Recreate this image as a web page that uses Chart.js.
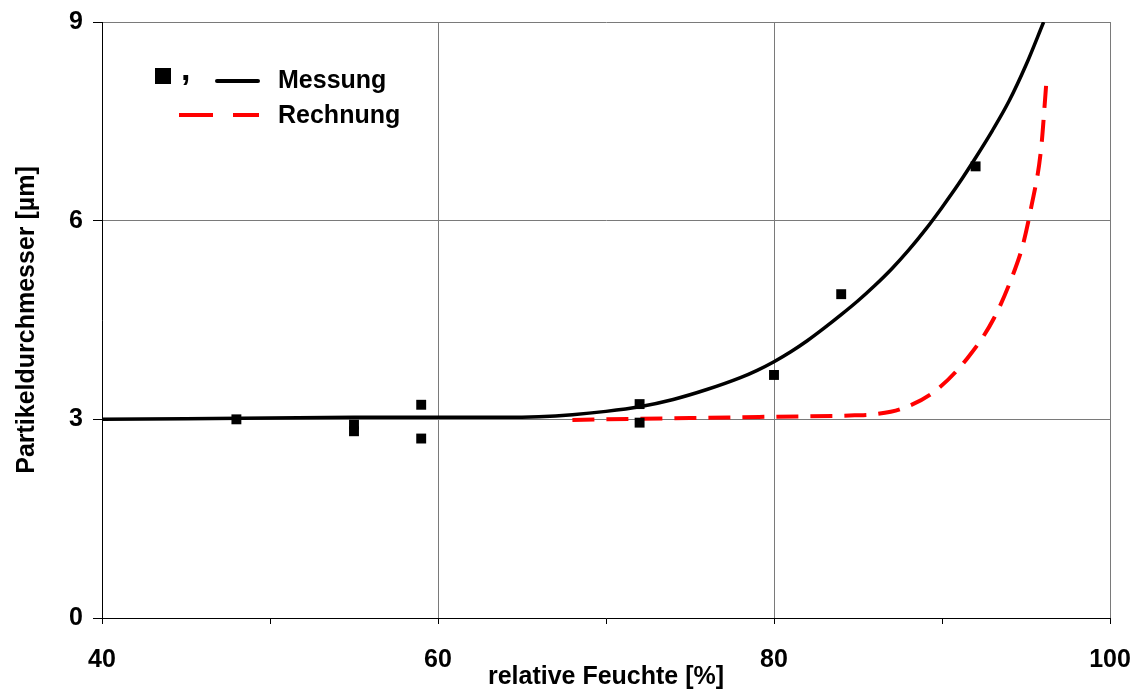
<!DOCTYPE html>
<html>
<head>
<meta charset="utf-8">
<script src="https://cdn.jsdelivr.net/npm/chart.js@4"></script>
<style>
  html, body { margin: 0; padding: 0; background: #fff; }
  #wrap { width: 1144px; height: 690px; }
</style>
</head>
<body>
<div id="wrap"><canvas id="grafico" width="1144" height="690"></canvas></div>
<script>
// Messwerte (relative Feuchte in %, Durchmesser in µm)
const messX = [48, 55, 55, 59, 59, 72, 72, 80, 84, 92];
const messY = [3.00, 2.92, 2.82, 3.22, 2.71, 3.23, 2.95, 3.67, 4.89, 6.82];

// Ausgleichskurve durch die Messwerte
const fitX = [40, 45, 50, 55, 60, 64, 66, 68, 70, 72, 74, 76, 78, 79, 80, 81, 82, 83, 84, 85, 86, 87, 88, 89, 90, 91, 92, 93, 94, 95, 96.05];
const fitY = [3.00, 3.01, 3.02, 3.03, 3.03, 3.03, 3.04, 3.07, 3.12, 3.19, 3.30, 3.45, 3.63, 3.74, 3.87, 4.02, 4.19, 4.38, 4.58, 4.79, 5.02, 5.27, 5.55, 5.86, 6.20, 6.56, 6.95, 7.36, 7.81, 8.35, 9.00];

// Rechnung
const rechX = [68, 70, 75, 80, 84.8, 86.1, 87.6, 89.6, 91.5, 93.1, 94.35, 94.8, 95.3, 95.9, 96.2];
const rechY = [2.99, 3.00, 3.02, 3.04, 3.06, 3.08, 3.16, 3.43, 3.92, 4.53, 5.27, 5.62, 6.19, 7.09, 8.05];

const xTicks = [40, 60, 80, 100];
const yTicks = [0, 3, 6, 9];

const schrift = 'Liberation Sans, Arial, Helvetica, sans-serif';

function punkte(xs, ys) {
  return xs.map((x, i) => ({ x: x, y: ys[i] }));
}

const legende = {
  id: 'legende',
  afterDraw(chart) {
    const ctx = chart.ctx;
    ctx.save();
    ctx.fillStyle = '#000';
    ctx.fillRect(155, 68, 16, 16);
    ctx.font = 'bold 34px ' + schrift;
    ctx.textBaseline = 'alphabetic';
    ctx.fillText(',', 181, 80);

    ctx.lineCap = 'round';
    ctx.strokeStyle = '#000';
    ctx.lineWidth = 4;
    ctx.beginPath();
    ctx.moveTo(217, 81);
    ctx.lineTo(258, 81);
    ctx.stroke();

    ctx.lineCap = 'butt';
    ctx.strokeStyle = '#ff0000';
    ctx.beginPath();
    ctx.moveTo(179, 115);
    ctx.lineTo(213, 115);
    ctx.moveTo(233, 115);
    ctx.lineTo(259, 115);
    ctx.stroke();

    ctx.fillStyle = '#000';
    ctx.font = 'bold 25px ' + schrift;
    ctx.fillText('Messung', 278, 88);
    ctx.fillText('Rechnung', 278, 123);
    ctx.restore();
  }
};

const ctx = document.getElementById('grafico').getContext('2d');

new Chart(ctx, {
  type: 'line',
  data: {
    datasets: [
      {
        label: 'Messwerte',
        data: punkte(messX, messY),
        showLine: false,
        pointStyle: 'rect',
        pointRadius: 7,
        pointBorderWidth: 0,
        pointBackgroundColor: '#000',
        pointBorderColor: '#000'
      },
      {
        label: 'Messung',
        data: punkte(fitX, fitY),
        borderColor: '#000',
        borderWidth: 3.5,
        pointRadius: 0,
        cubicInterpolationMode: 'monotone',
        fill: false
      },
      {
        label: 'Rechnung',
        data: punkte(rechX, rechY),
        borderColor: '#ff0000',
        borderWidth: 4,
        borderDash: [22, 12],
        pointRadius: 0,
        cubicInterpolationMode: 'monotone',
        fill: false
      }
    ]
  },
  options: {
    responsive: false,
    animation: false,
    devicePixelRatio: 1,
    layout: { padding: { left: 0, right: 34, top: 22, bottom: 0 } },
    plugins: {
      legend: { display: false },
      tooltip: { enabled: false }
    },
    scales: {
      x: {
        type: 'linear',
        min: 40,
        max: 100,
        afterFit(scale) {
          scale.height = 72;
          scale.paddingLeft = 0;
          scale.paddingRight = 0;
        },
        ticks: {
          stepSize: 10,
          autoSkip: false,
          maxRotation: 0,
          padding: 21,
          color: '#000',
          font: { family: schrift, size: 25, weight: 'bold' },
          callback: v => xTicks.includes(v) ? v : ''
        },
        grid: {
          color: c => (c.tick && xTicks.includes(c.tick.value)) ? '#7a7a7a' : 'rgba(0,0,0,0)',
          tickColor: '#000',
          tickLength: 6,
          lineWidth: 1
        },
        border: { color: '#000', width: 1 },
        title: {
          display: true,
          text: 'relative Feuchte [%]',
          color: '#000',
          font: { family: schrift, size: 25, weight: 'bold' },
          padding: { top: 0, bottom: -2 }
        }
      },
      y: {
        min: 0,
        max: 9,
        afterFit(scale) {
          scale.width = 102;
          scale.paddingTop = 0;
          scale.paddingBottom = 0;
        },
        ticks: {
          stepSize: 3,
          padding: 10,
          color: '#000',
          font: { family: schrift, size: 25, weight: 'bold' },
          callback: v => yTicks.includes(v) ? v : ''
        },
        grid: {
          color: '#7a7a7a',
          tickColor: '#000',
          tickLength: 9,
          lineWidth: 1
        },
        border: { color: '#000', width: 1 },
        title: {
          display: true,
          text: 'Partikeldurchmesser [µm]',
          color: '#000',
          font: { family: schrift, size: 25, weight: 'bold' },
          padding: { top: 12, bottom: 0 }
        }
      }
    }
  },
  plugins: [legende]
});
</script>
</body>
</html>
